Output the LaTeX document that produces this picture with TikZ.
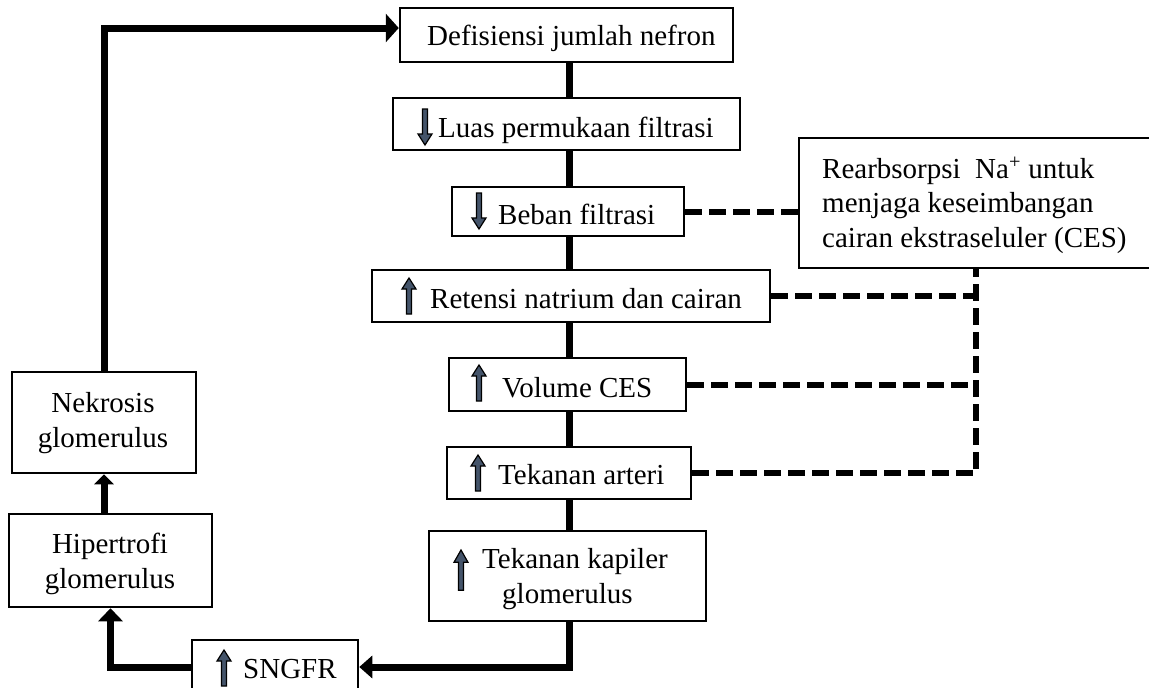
\documentclass[tikz,border=0pt]{standalone}
\usepackage{fontspec}
\setmainfont{Liberation Serif}
\usetikzlibrary{arrows.meta}
\definecolor{arrfill}{HTML}{44546A}
\begin{document}
\begin{tikzpicture}[x=1pt,y=-1pt,
  box/.style={draw, line width=2.5pt, fill=white, inner sep=0pt, rectangle},
  lbl/.style={font=\fontsize{29}{35}\selectfont, inner sep=0pt},
  mainline/.style={line width=7pt},
  mainarr/.style={line width=7pt, -{Triangle[length=13pt,width=#1]}},
  mainarr/.default=24pt,
  dashline/.style={line width=6pt, dash pattern=on 17pt off 7pt},
  uparr/.pic={\draw[fill=arrfill,line width=1.2pt,line join=miter] (0,0) -- (7,11) -- (2.5,11) -- (2.5,36) -- (-2.5,36) -- (-2.5,11) -- (-7,11) -- cycle;},
  downarr/.pic={\draw[fill=arrfill,line width=1.2pt,line join=miter] (0,36) -- (7,25) -- (2.5,25) -- (2.5,0) -- (-2.5,0) -- (-2.5,25) -- (-7,25) -- cycle;}
]
\useasboundingbox (0,0) rectangle (1149,688);

% boxes
\node[box, minimum width=333pt, minimum height=54pt] (b1) at (566.5,35) {};
\node[box, minimum width=347pt, minimum height=52pt] (b2) at (566.5,124) {};
\node[box, minimum width=232pt, minimum height=49pt] (b3) at (568,211.5) {};
\node[box, minimum width=398pt, minimum height=52pt] (b4) at (571,296) {};
\node[box, minimum width=237pt, minimum height=53pt] (b5) at (567.5,384.5) {};
\node[box, minimum width=244pt, minimum height=52pt] (b6) at (569,473) {};
\node[box, minimum width=277pt, minimum height=90pt] (b7) at (567.5,576) {};
\node[box, minimum width=166pt, minimum height=54pt] (sng) at (275,667) {};
\node[box, minimum width=356pt, minimum height=130pt] (re) at (977,203) {};
\node[box, minimum width=184pt, minimum height=101pt] (nek) at (104,422.5) {};
\node[box, minimum width=203pt, minimum height=93pt] (hip) at (110.5,560.5) {};

% texts
\node[lbl, anchor=base west] (t1) at (427,45) {Defisiensi jumlah nefron};
\node[lbl, anchor=base west] (t2) at (438,137) {Luas permukaan filtrasi};
\node[lbl, anchor=base west] (t3) at (498,224) {Beban filtrasi};
\node[lbl, anchor=base west] (t4) at (430,308) {Retensi natrium dan cairan};
\node[lbl, anchor=base west] (t5) at (502,397) {Volume CES};
\node[lbl, anchor=base west] (t6) at (498,484) {Tekanan arteri};
\node[lbl, anchor=base west] (t7a) at (482,568) {Tekanan kapiler};
\node[lbl, anchor=base west] (t7b) at (502,603) {glomerulus};
\node[lbl, anchor=base west] (t8) at (243,678) {SNGFR};
\node[lbl, anchor=base west] (t9a) at (822,178) {Rearbsorpsi\ \ Na\textsuperscript{+} untuk};
\node[lbl, anchor=base west] (t9b) at (822,212) {menjaga keseimbangan};
\node[lbl, anchor=base west] (t9c) at (822,247) {cairan ekstraseluler (CES)};
\node[lbl, anchor=base] (t10a) at (103,412) {Nekrosis};
\node[lbl, anchor=base] (t10b) at (103,447) {glomerulus};
\node[lbl, anchor=base] (t11a) at (110,553) {Hipertrofi};
\node[lbl, anchor=base] (t11b) at (110,588) {glomerulus};

% small block arrows
\pic at (425,109) {downarr};
\pic at (479,193) {downarr};
\pic at (409,278) {uparr};
\pic at (479,365) {uparr};
\pic at (478,455) {uparr};
\pic[yscale=1.12] at (461,550) {uparr};
\pic at (224,650) {uparr};

% main spine
\coordinate (spine) at (569,0);
\coordinate (topy) at (0,28);
\coordinate (dashx) at (976,0);
\draw[mainline] (b1.south -| spine) -- (b2.north -| spine);
\draw[mainline] (b2.south -| spine) -- (b3.north -| spine);
\draw[mainline] (b3.south -| spine) -- (b4.north -| spine);
\draw[mainline] (b4.south -| spine) -- (b5.north -| spine);
\draw[mainline] (b5.south -| spine) -- (b6.north -| spine);
\draw[mainline] (b6.south -| spine) -- (b7.north -| spine);
\draw[mainarr=22pt] (b7.south -| spine) |- (sng.east);
\draw[mainarr=24pt] (sng.west) -| (hip.south);
\draw[line width=7pt, -{Triangle[length=10pt,width=19pt]}] (hip.north -| nek.south) -- (nek.south);
\draw[mainarr=28pt] (nek.north) |- (b1.west |- topy);

% dashed links
\draw[dashline] (b3.east) -- (re.west |- b3.east);
\draw[dashline] (b6.east) -| (re.south -| dashx);
\draw[dashline] (b4.east) -- (b4.east -| dashx);
\draw[dashline] (b5.east) -- (b5.east -| dashx);
\end{tikzpicture}
\end{document}
